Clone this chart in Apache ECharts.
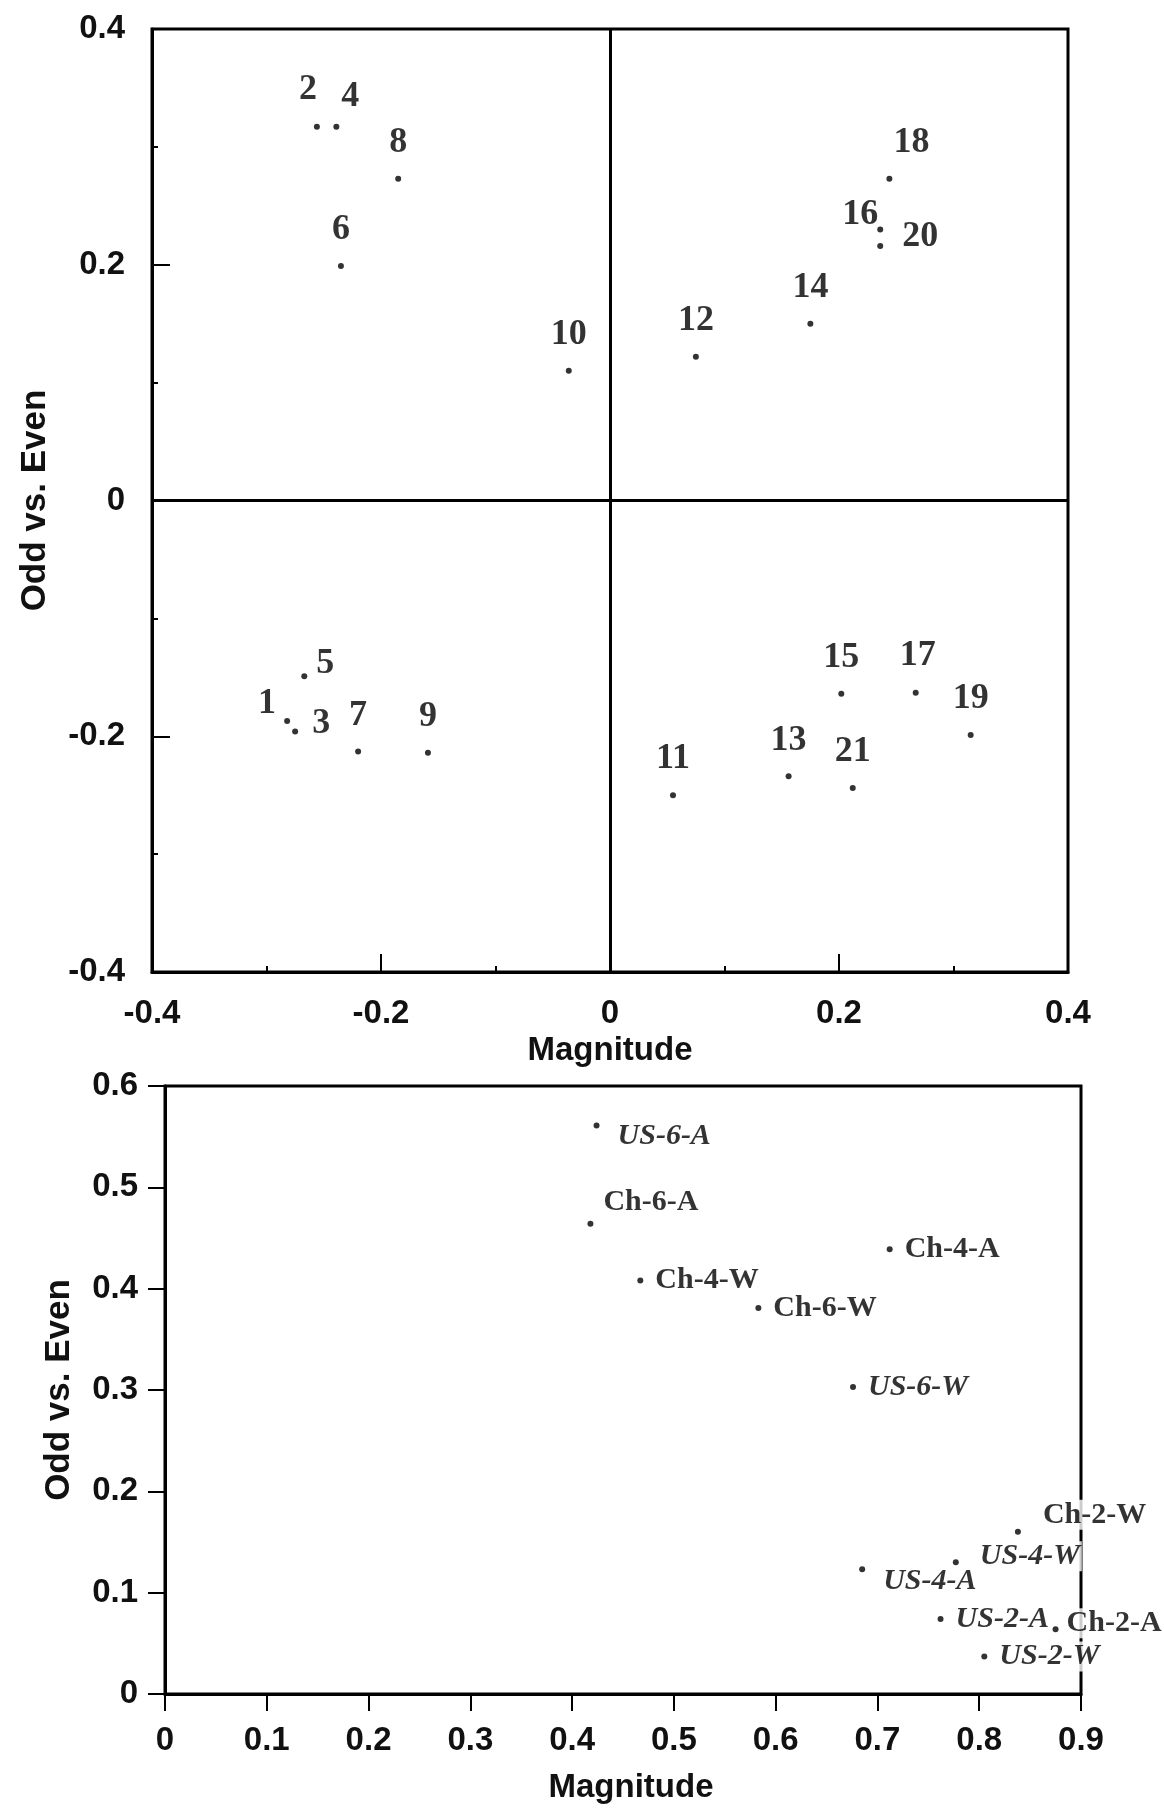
<!DOCTYPE html>
<html>
<head>
<meta charset="utf-8">
<script src="https://cdn.jsdelivr.net/npm/echarts@6/dist/echarts.min.js"></script>
<style>
  html, body { margin: 0; padding: 0; background: #fff; }
  #chart { width: 1164px; height: 1808px; }
</style>
</head>
<body>
<div id="chart"></div>
<script>
// upper plot: numbered points
const topLabels = ['1', '2', '3', '4', '5', '6', '7', '8', '9', '10', '11',
  '12', '13', '14', '15', '16', '17', '18', '19', '20', '21']
const topMagnitude = [-0.282, -0.256, -0.275, -0.239, -0.267, -0.235, -0.220, -0.185, -0.159, -0.036, 0.055,
  0.075, 0.156, 0.175, 0.202, 0.236, 0.267, 0.244, 0.315, 0.236, 0.212]
const topOddEven = [-0.187, 0.317, -0.196, 0.317, -0.149, 0.199, -0.213, 0.273, -0.214, 0.110, -0.250,
  0.122, -0.234, 0.150, -0.164, 0.230, -0.163, 0.273, -0.199, 0.216, -0.244]

// lower plot: named samples
const bottomLabels = ['US-6-A', 'Ch-6-A', 'Ch-4-W', 'Ch-6-W', 'Ch-4-A', 'US-6-W',
  'Ch-2-W', 'US-4-W', 'US-4-A', 'US-2-A', 'Ch-2-A', 'US-2-W']
const bottomMagnitude = [0.424, 0.418, 0.467, 0.583, 0.712, 0.676, 0.838, 0.777, 0.685, 0.762, 0.875, 0.805]
const bottomOddEven = [0.561, 0.464, 0.408, 0.381, 0.439, 0.303, 0.160, 0.130, 0.123, 0.074, 0.064, 0.037]

// label nudges (px) where the print moves a label off its usual spot
const topNudge = {
  '2': [-9, -37], '4': [14, -30], '18': [22, -36], '16': [-20, -15], '20': [40, -9],
  '5': [21, -12], '1': [-20, -17], '3': [26, -8], '17': [2, -37]
}
const bottomNudge = {
  'US-6-A': [6, 11], 'Ch-6-A': [-2, -22], 'Ch-2-W': [10, -17],
  'US-4-W': [9, -6], 'US-4-A': [6, 12], 'Ch-2-A': [-4, -6]
}

const sans = '"Liberation Sans", Arial, sans-serif'
const serif = '"Liberation Serif", "Times New Roman", serif'

const topData = topLabels.map((name, i) => ({
  name: name,
  value: [topMagnitude[i], topOddEven[i]],
  label: { offset: topNudge[name] || [0, -36] }
}))

const bottomData = bottomLabels.map((name, i) => ({
  name: name,
  value: [bottomMagnitude[i], bottomOddEven[i]],
  label: {
    offset: bottomNudge[name] || [0, 0],
    fontStyle: name.indexOf('US') === 0 ? 'italic' : 'normal'
  }
}))

const axisLine = { show: true, onZero: false, lineStyle: { color: '#000', width: 3 } }
const tickLabel = { color: '#111', fontFamily: sans, fontWeight: 'bold', fontSize: 33 }
const nameStyle = { color: '#111', fontFamily: sans, fontWeight: 'bold', fontSize: 33 }

const option = {
  backgroundColor: '#fff',
  animation: false,
  grid: [
    { left: 152, top: 29, width: 916, height: 943, show: true, borderColor: '#000', borderWidth: 3 },
    { left: 165, top: 1086, width: 916, height: 608, show: true, borderColor: '#000', borderWidth: 3 }
  ],
  xAxis: [
    {
      gridIndex: 0,
      type: 'value',
      min: -0.4,
      max: 0.4,
      interval: 0.2,
      name: 'Magnitude',
      nameLocation: 'middle',
      nameGap: 59,
      nameTextStyle: nameStyle,
      axisLine: axisLine,
      axisTick: { inside: true, length: 18, lineStyle: { color: '#000', width: 2 } },
      minorTick: { show: true, splitNumber: 2, length: 6, lineStyle: { color: '#000', width: 2 } },
      splitLine: { show: false },
      axisLabel: Object.assign({ margin: 25 }, tickLabel)
    },
    {
      gridIndex: 1,
      type: 'value',
      min: 0,
      max: 0.9,
      interval: 0.1,
      name: 'Magnitude',
      nameLocation: 'middle',
      nameGap: 77,
      nameTextStyle: Object.assign({}, nameStyle, { padding: [0, 0, 0, 16] }),
      axisLine: axisLine,
      axisTick: { inside: false, length: 17, lineStyle: { color: '#000', width: 2 } },
      splitLine: { show: false },
      axisLabel: Object.assign({ margin: 30 }, tickLabel)
    }
  ],
  yAxis: [
    {
      gridIndex: 0,
      type: 'value',
      min: -0.4,
      max: 0.4,
      interval: 0.2,
      name: 'Odd vs. Even',
      nameLocation: 'middle',
      nameGap: 99,
      nameTextStyle: Object.assign({}, nameStyle, { fontSize: 35 }),
      axisLine: axisLine,
      axisTick: { inside: true, length: 18, lineStyle: { color: '#000', width: 2 } },
      minorTick: { show: true, splitNumber: 2, length: 6, lineStyle: { color: '#000', width: 2 } },
      splitLine: { show: false },
      axisLabel: Object.assign({ margin: 27 }, tickLabel)
    },
    {
      gridIndex: 1,
      type: 'value',
      min: 0,
      max: 0.6,
      interval: 0.1,
      name: 'Odd vs. Even',
      nameLocation: 'middle',
      nameGap: 88,
      nameTextStyle: Object.assign({}, nameStyle, { fontSize: 35 }),
      axisLine: axisLine,
      axisTick: { inside: false, length: 17, lineStyle: { color: '#000', width: 2 } },
      splitLine: { show: false },
      axisLabel: Object.assign({ margin: 27 }, tickLabel)
    }
  ],
  series: [
    {
      type: 'scatter',
      xAxisIndex: 0,
      yAxisIndex: 0,
      symbol: 'circle',
      symbolSize: 6,
      itemStyle: { color: '#000' },
      label: {
        show: true,
        position: 'inside',
        formatter: '{b}',
        color: '#000',
        fontFamily: serif,
        fontWeight: 'bold',
        fontSize: 36
      },
      data: topData,
      markLine: {
        silent: true,
        symbol: 'none',
        label: { show: false },
        lineStyle: { color: '#000', width: 3, type: 'solid' },
        data: [{ xAxis: 0 }, { yAxis: 0 }]
      }
    },
    {
      type: 'scatter',
      xAxisIndex: 1,
      yAxisIndex: 1,
      symbol: 'circle',
      symbolSize: 6,
      itemStyle: { color: '#000' },
      label: {
        show: true,
        position: 'right',
        distance: 10,
        formatter: '{b}',
        color: '#000',
        fontFamily: serif,
        fontWeight: 'bold',
        fontSize: 30,
        backgroundColor: '#fff',
        padding: [0, 2]
      },
      data: bottomData
    }
  ]
}

const chart = echarts.init(document.getElementById('chart'))
chart.setOption(option)
</script>
</body>
</html>
